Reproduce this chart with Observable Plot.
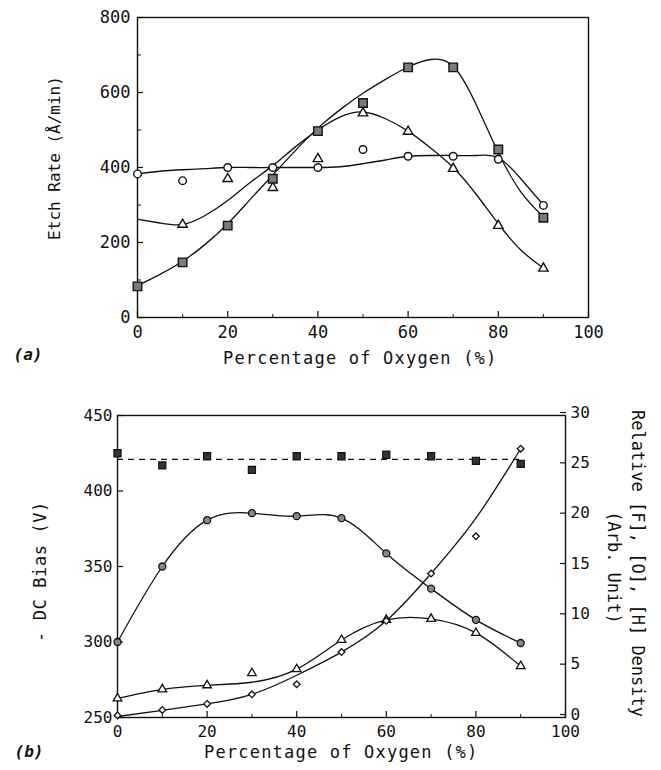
<!DOCTYPE html>
<html><head><meta charset="utf-8">
<script src="https://cdn.jsdelivr.net/npm/d3@7"></script>
<script src="https://cdn.jsdelivr.net/npm/@observablehq/plot@0.6"></script>
<style>
body{margin:0;background:#fff;}
#wrap{position:relative;width:661px;height:770px;font-family:"DejaVu Sans Mono",monospace;color:#111;overflow:hidden;}
.lbl{position:absolute;font-size:17px;white-space:pre;line-height:1;transform-origin:center center;}
.plot{position:absolute;left:0;}
</style></head><body><div id="wrap"></div>
<script>
// ---------- (a) Etch rate ----------
const pct = [0, 10, 20, 30, 40, 50, 60, 70, 80, 90];
const etchSquare   = [83, 147, 245, 370, 497, 572, 667, 667, 448, 266];
const etchTriangle = [null, 248, 370, 346, 423, 545, 496, 397, 245, 131];
const etchCircle   = [383, 365, 400, 400, 400, 448, 430, 430, 422, 299];
// fitted curves
const fitPct = [0, 5, 10, 15, 20, 25, 30, 35, 40, 45, 50, 55, 60, 65, 70, 75, 80, 85, 90];
const etchSquareFit   = [85, 115, 150, 195, 250, 315, 380, 445, 505, 555, 598, 635, 668, 688, 670, 570, 440, 335, 268];
const etchTriangleFit = [262, 252, 248, 272, 312, 360, 405, 455, 500, 535, 548, 530, 497, 452, 400, 330, 250, 180, 132];
const etchCircleFit   = [383, 390, 394, 397, 400, 400, 400, 400, 400, 402, 410, 420, 430, 432, 432, 432, 426, 370, 300];
const etchTicks = [0, 200, 400, 600, 800];
const etchMinor = [100, 300, 500, 700];
const pctTicks = [0, 20, 40, 60, 80, 100];
const pctMinor = [10, 30, 50, 70, 90];

// ---------- (b) DC bias & densities ----------
const biasSquare = [425, 417, 423, 414, 423, 423, 424, 423, 420, 418];
const biasMean = 421;
const densCircle   = [7.5, 15.0, 19.6, 20.3, 20.0, 19.8, 16.3, 12.8, 9.7, 7.4];
const densTriangle = [1.9, 2.8, 3.2, 4.4, 4.8, 7.7, 9.7, 9.8, 8.4, 5.1];
const densTriangleFit = [1.9, 2.8, 3.2, 3.5, 4.8, 7.7, 9.7, 9.8, 8.4, 5.1];
const densDiamond  = [0.2, 0.75, 1.35, 2.3, 3.3, 6.5, 9.6, 14.3, 18.0, 26.7];
const densDiamondFit = [0.1, 0.7, 1.35, 2.3, 4.2, 6.5, 9.6, 14.3, 19.8, 26.7];
const biasTicks = [250, 300, 350, 400, 450];
const densTicks = [0, 5, 10, 15, 20, 25, 30];

const FONT = '"DejaVu Sans Mono", monospace';
const INK = "#111";
const rows = (xs, ys) => xs.map((x, i) => ({x, y: ys[i]})).filter(d => d.y != null);
const toBias = v => 250 + v * 200 / 30;
const densRows = (ys) => pct.map((x, i) => ({x, y: toBias(ys[i])}));

const wrap = document.getElementById("wrap");
function label(text, cx, cy, rot = 0, extra = {}) {
  const d = document.createElement("div");
  d.className = "lbl";
  d.textContent = text;
  Object.assign(d.style, extra);
  wrap.appendChild(d);
  const w = d.offsetWidth, h = d.offsetHeight;
  d.style.left = (cx - w / 2) + "px";
  d.style.top = (cy - h / 2) + "px";
  if (rot) d.style.transform = `rotate(${rot}deg)`;
}

const style = {fontFamily: FONT, fontSize: "17px", color: INK, background: "transparent", overflow: "visible"};
const styleB = {...style, fontSize: "16px"};

const topPlot = Plot.plot({
  width: 661, height: 345,
  marginLeft: 137, marginRight: 73, marginTop: 17, marginBottom: 28,
  x: {domain: [0, 100]},
  y: {domain: [0, 800]},
  style,
  marks: [
    Plot.frame({stroke: INK, strokeWidth: 1.4}),
    Plot.axisX({ticks: pctTicks, tickSize: -6, tickPadding: 14, label: null, stroke: INK, strokeWidth: 1.2}),
    Plot.axisX({ticks: pctMinor, tickSize: -3, tickFormat: () => "", label: null, stroke: INK}),
    Plot.axisY({ticks: etchTicks, tickSize: -6, tickPadding: 13, label: null, stroke: INK, strokeWidth: 1.2}),
    Plot.axisY({ticks: etchMinor, tickSize: -4, tickFormat: () => "", label: null, stroke: INK}),
    Plot.line(rows(fitPct, etchSquareFit), {x: "x", y: "y", curve: "natural", stroke: INK, strokeWidth: 1.3}),
    Plot.line(rows(fitPct, etchTriangleFit), {x: "x", y: "y", curve: "natural", stroke: INK, strokeWidth: 1.3}),
    Plot.line(rows(fitPct, etchCircleFit), {x: "x", y: "y", curve: "natural", stroke: INK, strokeWidth: 1.3}),
    Plot.dot(rows(pct, etchCircle), {x: "x", y: "y", symbol: "circle", r: 3.8, fill: "white", stroke: INK, strokeWidth: 1.4}),
    Plot.dot(rows(pct, etchTriangle), {x: "x", y: "y", symbol: "triangle", r: 3.5, fill: "white", stroke: INK, strokeWidth: 1.4}),
    Plot.dot(rows(pct, etchSquare), {x: "x", y: "y", symbol: "square", r: 4.8, fill: "#7a7a7a", stroke: INK, strokeWidth: 1.4})
  ]
});
topPlot.classList.add("plot");
topPlot.style.top = "0px";
wrap.appendChild(topPlot);

const botPlot = Plot.plot({
  width: 661, height: 390,
  marginLeft: 117, marginRight: 96, marginTop: 35, marginBottom: 53,
  x: {domain: [0, 100]},
  y: {domain: [250, 450]},
  style: styleB,
  marks: [
    Plot.frame({stroke: INK, strokeWidth: 1.4}),
    Plot.axisX({ticks: pctTicks, tickSize: -6, tickPadding: 14, label: null, stroke: INK, strokeWidth: 1.2}),
    Plot.axisX({ticks: pctMinor, tickSize: -3, tickFormat: () => "", label: null, stroke: INK}),
    Plot.axisY({ticks: biasTicks, tickSize: -6, tickPadding: 11, label: null, stroke: INK, strokeWidth: 1.2}),
    Plot.axisY({anchor: "right", ticks: densTicks.map(toBias), tickFormat: v => String(Math.round((v - 250) * 30 / 200)), tickSize: -6, tickPadding: 11, dy: -3, label: null, stroke: INK, strokeWidth: 1.2}),
    Plot.ruleY([biasMean], {x1: pct[0], x2: pct[pct.length - 1], stroke: INK, strokeWidth: 1.2, strokeDasharray: "6,5"}),
    Plot.line(densRows(densCircle), {x: "x", y: "y", curve: "natural", stroke: INK, strokeWidth: 1.3}),
    Plot.line(densRows(densTriangleFit), {x: "x", y: "y", curve: "natural", stroke: INK, strokeWidth: 1.3}),
    Plot.line(densRows(densDiamondFit), {x: "x", y: "y", curve: "natural", stroke: INK, strokeWidth: 1.3}),
    Plot.dot(rows(pct, biasSquare), {x: "x", y: "y", symbol: "square", r: 4, fill: "#333", stroke: INK, strokeWidth: 1.2}),
    Plot.dot(densRows(densCircle), {x: "x", y: "y", symbol: "circle", r: 3.5, fill: "#888", stroke: INK, strokeWidth: 1.3}),
    Plot.dot(densRows(densTriangle), {x: "x", y: "y", symbol: "triangle", r: 3.2, fill: "white", stroke: INK, strokeWidth: 1.3}),
    Plot.dot(densRows(densDiamond), {x: "x", y: "y", symbol: "diamond2", r: 3.0, fill: "white", stroke: INK, strokeWidth: 1.3})
  ]
});
botPlot.classList.add("plot");
botPlot.style.top = "380px";
wrap.appendChild(botPlot);

// axis titles and panel letters
label("Etch Rate (Å/min)", 55, 158, -90, {fontSize: "16px"});
label("Percentage of Oxygen (%)", 360, 358, 0, {letterSpacing: "1.2px"});
label("(a)", 28, 355, 0, {fontWeight: "bold", fontStyle: "italic", fontSize: "16px"});
label("- DC Bias (V)", 40, 571, -90, {letterSpacing: "0.6px"});
label("Percentage of Oxygen (%)", 341, 752, 0, {letterSpacing: "1.2px"});
label("(b)", 29, 752, 0, {fontWeight: "bold", fontStyle: "italic", fontSize: "16px"});
label("Relative [F], [O], [H] Density", 637, 563, 90);
label("(Arb. Unit)", 613, 567, 90);
</script>
</body></html>
